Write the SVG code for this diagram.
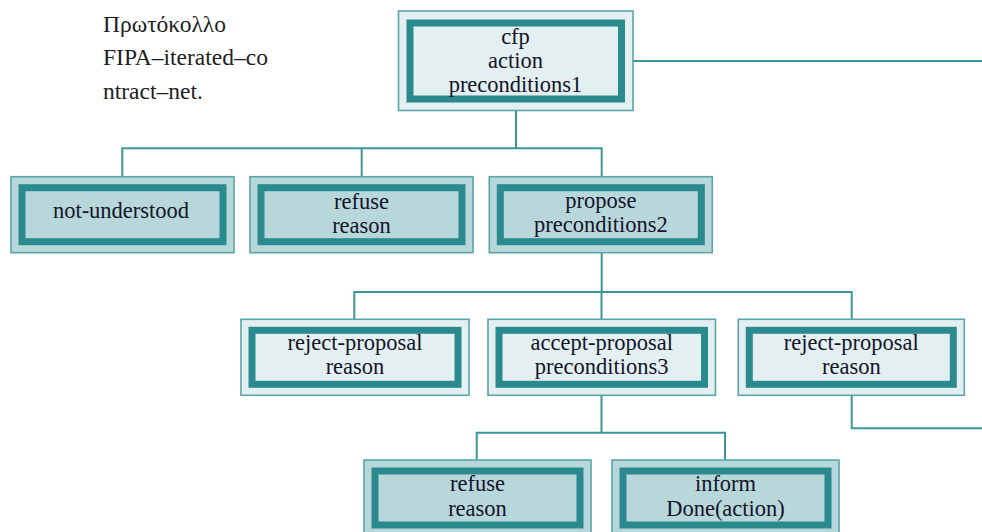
<svg xmlns="http://www.w3.org/2000/svg" width="982" height="532" viewBox="0 0 982 532">
<style>
.outer{stroke:#5aa5a8;stroke-width:1.6}
.band{fill:none;stroke:#2b8a8e;stroke-width:7}
.light{fill:#e3eff0}
.dark{fill:#b8d7da}
.lbl{font-family:"Liberation Serif","Times New Roman",serif;font-size:22.5px;fill:#14142a;text-anchor:middle}
.cap{font-family:"Liberation Serif","Times New Roman",serif;font-size:23.5px;fill:#1e1e1e}
.conn{fill:none;stroke:#3c9598;stroke-width:2}
</style>
<rect width="982" height="532" fill="#ffffff"/>
<g id="caption">
<text class="cap" x="103" y="31.5">Πρωτόκολλο</text>
<text class="cap" x="103" y="65">FIPA–iterated–co</text>
<text class="cap" x="103" y="98.5">ntract–net.</text>
</g>
<g id="connectors">
<path class="conn" d="M633 61H982"/>
<path class="conn" d="M516 111V148.3M122.3 176.7V148.3H601.7V176.7M361.7 148.3V176.7"/>
<path class="conn" d="M601.7 252.7V292M354.3 319V292H851.7V319M601.5 292V319"/>
<path class="conn" d="M851.7 395.5V428.3H982"/>
<path class="conn" d="M601.5 395.5V432.7M476.7 460V432.7H725V460"/>
</g>
<g id="cfp">
<rect class="outer light" x="398.5" y="11" width="234.5" height="99.5"/>
<rect class="band" x="410" y="23" width="211.5" height="76"/>
<text class="lbl" x="515.5" y="44">cfp</text>
<text class="lbl" x="515.5" y="68">action</text>
<text class="lbl" x="515.5" y="92">preconditions1</text>
</g>
<g id="not-understood">
<rect class="outer dark" x="11" y="176.7" width="223" height="76"/>
<rect class="band" x="22" y="187.7" width="201" height="54"/>
<text class="lbl" x="121" y="218.3">not-understood</text>
</g>
<g id="refuse1">
<rect class="outer dark" x="250" y="176.7" width="223" height="76"/>
<rect class="band" x="261" y="187.7" width="201" height="54"/>
<text class="lbl" x="361.5" y="208.5">refuse</text>
<text class="lbl" x="361.5" y="232.5">reason</text>
</g>
<g id="propose">
<rect class="outer dark" x="489.3" y="176.7" width="223" height="76"/>
<rect class="band" x="500.3" y="187.7" width="201" height="54"/>
<text class="lbl" x="600.8" y="208">propose</text>
<text class="lbl" x="600.8" y="232">preconditions2</text>
</g>
<g id="reject-proposal1">
<rect class="outer light" x="241" y="319.3" width="228" height="76"/>
<rect class="band" x="252" y="330.3" width="206" height="54"/>
<text class="lbl" x="355" y="349.5">reject-proposal</text>
<text class="lbl" x="355" y="374">reason</text>
</g>
<g id="accept-proposal">
<rect class="outer light" x="488" y="319.3" width="227.5" height="76"/>
<rect class="band" x="499" y="330.3" width="205.5" height="54"/>
<text class="lbl" x="601.7" y="349.5">accept-proposal</text>
<text class="lbl" x="601.7" y="374">preconditions3</text>
</g>
<g id="reject-proposal2">
<rect class="outer light" x="738.3" y="319.3" width="226" height="76"/>
<rect class="band" x="749.3" y="330.3" width="204" height="54"/>
<text class="lbl" x="851.3" y="349.5">reject-proposal</text>
<text class="lbl" x="851.3" y="374">reason</text>
</g>
<g id="refuse2">
<rect class="outer dark" x="364" y="460" width="227" height="76"/>
<rect class="band" x="375" y="471" width="205" height="54"/>
<text class="lbl" x="477.5" y="491">refuse</text>
<text class="lbl" x="477.5" y="515.5">reason</text>
</g>
<g id="inform">
<rect class="outer dark" x="612" y="460" width="227" height="76"/>
<rect class="band" x="623" y="471" width="205" height="54"/>
<text class="lbl" x="725.5" y="491">inform</text>
<text class="lbl" x="725.5" y="515.5">Done(action)</text>
</g>
</svg>
